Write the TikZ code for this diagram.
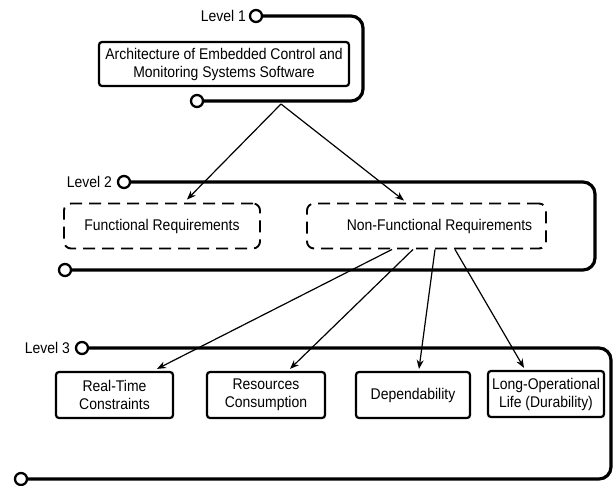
\documentclass[tikz,border=0pt]{standalone}
\usepackage{fontspec}
\setmainfont[FakeStretch=0.9]{Liberation Sans}
\usetikzlibrary{arrows.meta}
\begin{document}
\begin{tikzpicture}[x=1pt,y=-1pt,
  txt/.style={font=\fontsize{15.5}{18}\selectfont},
  lvl/.style={txt, inner sep=0pt, anchor=east},
  levelloop/.style={line width=3.2pt, rounded corners=12pt},
  port/.style={circle, draw, line width=2.3pt, fill=white, minimum size=12pt, inner sep=0pt},
  solidbox/.style={txt, draw, line width=2.2pt, rounded corners=3pt, align=center, inner sep=0pt, minimum height=46pt},
  dashbox/.style={txt, draw, line width=1.9pt, dash pattern=on 12pt off 7pt, rounded corners=7pt, align=center, inner sep=0pt, minimum height=45pt},
  arr/.style={-{Stealth[length=9pt,width=7pt]}, line width=1.2pt}]
\useasboundingbox (0,0) rectangle (616,485);

% Level 1
\draw[levelloop] (256,16) -- (363,16) -- (363,101) -- (197,101);
\node[port] (c1a) at (256,16) {};
\node[port] (c1b) at (197,101) {};
\node[lvl] (l1) at (246,16) {Level 1};
\node[solidbox, minimum width=250pt, minimum height=44pt] (top) at (224,64)
  {Architecture of Embedded Control and\\Monitoring Systems Software};

% Level 2
\draw[levelloop] (124,182) -- (595,182) -- (595,270) -- (65,270);
\node[port] (c2a) at (124,182) {};
\node[port] (c2b) at (65,270) {};
\node[lvl] (l2) at (112,182) {Level 2};
\node[dashbox, minimum width=196pt] (fr) at (162,226) {Functional Requirements};
\node[dashbox, minimum width=239pt] (nf) at (426.5,226) {\hspace*{26pt}Non-Functional Requirements};

% Level 3
\draw[levelloop] (82,348) -- (611,348) -- (611,479) -- (21,479);
\node[port] (c3a) at (82,348) {};
\node[port] (c3b) at (21,479) {};
\node[lvl] (l3) at (70,348) {Level 3};
\node[solidbox, minimum width=117pt] (rt) at (114.5,395) {Real-Time\\Constraints};
\node[solidbox, minimum width=118pt] (rc) at (266,395) {Resources\\Consumption};
\node[solidbox, minimum width=114pt] (dp) at (413,395) {Dependability};
\node[solidbox, minimum width=116pt] (lo) at (546,394) {Long-Operational\\Life (Durability)};

% connectors
\coordinate (src1) at (281,104);
\draw[arr] (src1) -- ([xshift=25pt,yshift=3pt]fr.north);
\draw[arr] (src1) -- ([xshift=-22.5pt,yshift=2pt]nf.north);

\draw[arr] ([xshift=-34.5pt]nf.south) -- ([xshift=42.5pt,yshift=2pt]rt.north);
\draw[arr] ([xshift=-13.5pt]nf.south) -- ([xshift=24pt,yshift=2pt]rc.north);
\draw[arr] ([xshift=8.5pt]nf.south) -- ([xshift=6pt,yshift=2pt]dp.north);
\draw[arr] ([xshift=28.5pt]nf.south) -- ([xshift=-22pt,yshift=2pt]lo.north);
\end{tikzpicture}
\end{document}
